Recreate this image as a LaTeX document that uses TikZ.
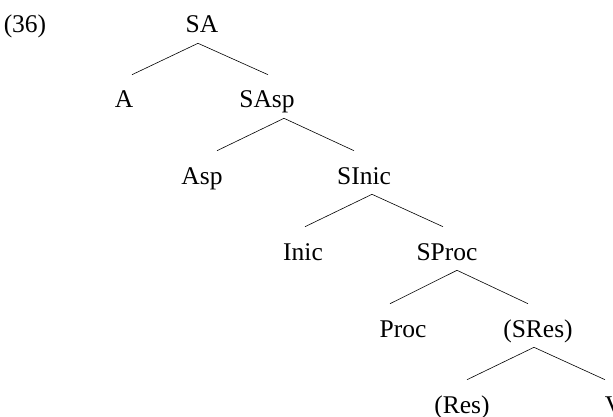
\documentclass[tikz,border=0pt]{standalone}
\usepackage{fontspec}
\setmainfont{Liberation Serif}
\usepackage{tikz}
\usetikzlibrary{positioning}

\begin{document}
\begin{tikzpicture}
          [x=1pt, y=-1pt, line width=0.6pt,
           cat/.style={anchor=base, inner sep=0pt, text height=33pt, text depth=10pt,
             font=\fontsize{25.5}{30}\selectfont}]
            \useasboundingbox (0,0) rectangle (613,417);
            \node (Num) [cat] at (25,33) {(36)};
            \node (SA) [cat] at (202,33) {SA};
            \node (A) [cat] at (124,108) {A};
            \node (SAsp) [cat] at (267,108) {SAsp};
            \node (Asp) [cat] at (202,184) {Asp};
            \node (SInic) [cat] at (364,184) {SInic};
            \node (Inic) [cat] at (303,260) {Inic};
            \node (SProc) [cat] at (447,260) {SProc};
            \node (Proc) [cat] at (403,337) {Proc};
            \node (SRes) [cat] at (538,337) {(SRes)};
            \node (Res) [cat] at (462,413) {(Res)};
            \node (V) [cat] at (614,413) {V};
            \draw ([xshift=-4pt]SA.south) -- ([xshift=8pt]A.north);
            \draw ([xshift=-4pt]SA.south) -- ([xshift=1pt]SAsp.north);
            \draw ([xshift=17pt]SAsp.south) -- ([xshift=15pt]Asp.north);
            \draw ([xshift=17pt]SAsp.south) -- ([xshift=-10pt]SInic.north);
            \draw ([xshift=8pt]SInic.south) -- ([xshift=2pt]Inic.north);
            \draw ([xshift=8pt]SInic.south) -- ([xshift=-4pt]SProc.north);
            \draw ([xshift=10pt]SProc.south) -- ([xshift=-13pt]Proc.north);
            \draw ([xshift=10pt]SProc.south) -- ([xshift=-10pt]SRes.north);
            \draw ([xshift=-4pt]SRes.south) -- ([xshift=5pt]Res.north);
            \draw ([xshift=-4pt]SRes.south) -- ([xshift=-9pt]V.north);
        \end{tikzpicture}
\end{document}
